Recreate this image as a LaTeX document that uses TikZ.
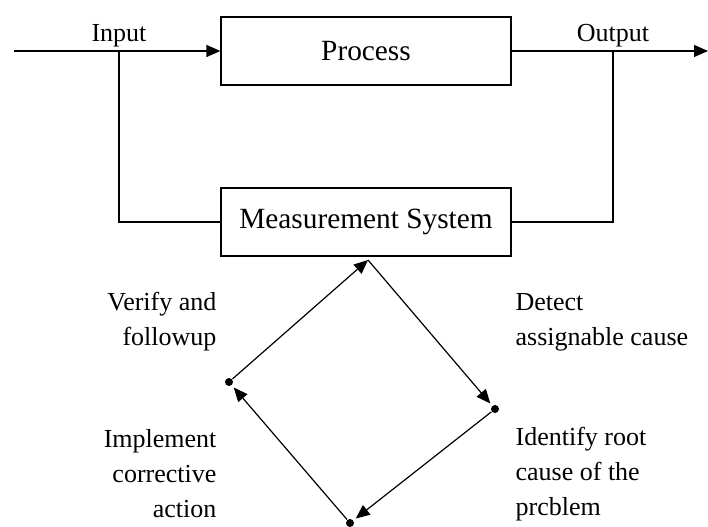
\documentclass[tikz,border=0pt]{standalone}
\usepackage{fontspec}
\setmainfont{Liberation Serif}
\usetikzlibrary{arrows.meta, positioning}

\begin{document}
\begin{tikzpicture}[x=0.75pt, y=-0.75pt, line width=0.9pt, >={Triangle[length=10.5pt,width=9pt]},
        box/.style={draw, rectangle, minimum width=217.5pt, minimum height=51pt, font=\fontsize{22}{26}\selectfont},
        lbl/.style={font=\fontsize{19.5}{26.25}\selectfont, inner sep=0pt},
        dot/.style={circle, fill, inner sep=0pt, minimum size=6pt}]
        \useasboundingbox (0,0) rectangle (708,527);

        \node[box] (proc) at (366,51) {Process};
        \node[box] (meas) at (366,222) {Measurement System};

        \coordinate (in) at (14,51);
        \coordinate (out) at (708,51);
        \coordinate (inj) at (119,51);
        \coordinate (outj) at (613,51);
        \node[lbl] (inlbl) at (119,36) {Input};
        \node[lbl] (outlbl) at (613,36) {Output};

        \draw[->] (in) -- (proc);
        \draw[->] (proc) -- (out);
        \draw (inj) |- (meas);
        \draw (meas) -| (outj);

        % improvement cycle
        \coordinate (top) at (368,260);
        \node[dot] (right) at (495,409) {};
        \node[dot] (bot) at (350,523) {};
        \node[dot] (left) at (229,382) {};

        \draw[->, shorten >=2pt] (top) -- (right);
        \draw[->, shorten >=2pt] (right) -- (bot);
        \draw[->, shorten >=2pt] (bot) -- (left);
        \draw[->] (left) -- (top);

        \node[lbl, align=right, anchor=east] (verify) at (217,322) {Verify and\\followup};
        \node[lbl, align=right, anchor=east] (impl) at (217,474) {Implement\\corrective\\action};
        \node[lbl, align=left, anchor=west] (detect) at (515,322) {Detect\\assignable cause};
        \node[lbl, align=left, anchor=west] (ident) at (515,474) {Identify root\\cause of the\\prcblem};
    \end{tikzpicture}
\end{document}
